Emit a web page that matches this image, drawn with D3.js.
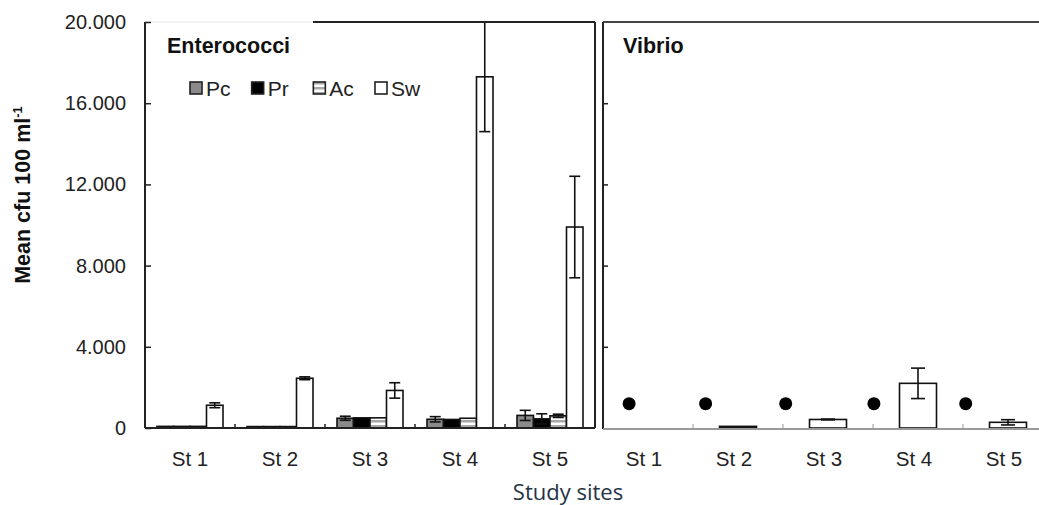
<!DOCTYPE html>
<html>
<head>
<meta charset="utf-8">
<script src="https://cdn.jsdelivr.net/npm/d3@7"></script>
<style>
  body { margin: 0; background: #fff; }
  svg { display: block; font-family: "Liberation Sans", Arial, sans-serif; }
</style>
</head>
<body>
<svg id="chart" width="1039" height="505"></svg>
<script>
// data
const sites = ["St 1", "St 2", "St 3", "St 4", "St 5"];
const series = ["Pc", "Pr", "Ac", "Sw"];
const yTicks = [0, 4000, 8000, 12000, 16000, 20000];
const yTickLabels = ["0", "4.000", "8.000", "12.000", "16.000", "20.000"];

const entPc = [80, 70, 480, 430, 620];
const entPcErr = [0, 0, 100, 130, 250];
const entPr = [80, 70, 500, 420, 450];
const entPrErr = [0, 0, 0, 0, 250];
const entAc = [80, 70, 500, 480, 600];
const entAcErr = [0, 0, 0, 0, 80];
const entSw = [1120, 2450, 1850, 17300, 9900];
const entSwErr = [120, 70, 380, 2700, 2500];

const vibSw = [0, 80, 420, 2200, 280];
const vibSwErr = [0, 0, 20, 750, 130];
const vibDot = [1200, 1200, 1200, 1200, 1200];
const vibDotPos = [0.29, 1.14, 2.03, 3.01, 4.03]; // in site units

const svg = d3.select("#chart");
const H0 = 428, H1 = 22;
const y = d3.scaleLinear().domain([0, 20000]).range([H0, H1]);

const defs = svg.append("defs");
const pat = defs.append("pattern").attr("id", "acStripe")
    .attr("patternUnits", "userSpaceOnUse").attr("width", 6).attr("height", 5);
pat.append("rect").attr("width", 6).attr("height", 5).attr("fill", "#fff");
pat.append("rect").attr("y", 0).attr("width", 6).attr("height", 2.5).attr("fill", "#a8a8a8");

const fills = {Pc: "#8a8a8a", Pr: "#000", Ac: "url(#acStripe)", Sw: "#fff"};

// ---------- left panel: Enterococci
const L = {x0: 145, x1: 595};
const xL = d3.scaleBand().domain(sites).range([L.x0, L.x1]);
const xInner = d3.scaleBand().domain(series).range([0, 66]);

svg.append("clipPath").attr("id", "clipL").append("rect")
    .attr("x", L.x0).attr("y", H1).attr("width", L.x1 - L.x0).attr("height", H0 - H1);

const rows = [];
sites.forEach((s, i) => {
    rows.push({site: s, key: "Pc", v: entPc[i], e: entPcErr[i]});
    rows.push({site: s, key: "Pr", v: entPr[i], e: entPrErr[i]});
    rows.push({site: s, key: "Ac", v: entAc[i], e: entAcErr[i]});
    rows.push({site: s, key: "Sw", v: entSw[i], e: entSwErr[i]});
});

const gL = svg.append("g").attr("clip-path", "url(#clipL)");
const bx = d => xL(d.site) + xL.bandwidth() / 2 - 33 + xInner(d.key);
gL.selectAll("rect.bar").data(rows).enter().append("rect")
    .attr("class", "bar")
    .attr("x", bx)
    .attr("y", d => y(d.v))
    .attr("width", xInner.bandwidth())
    .attr("height", d => H0 - y(d.v))
    .attr("fill", d => fills[d.key])
    .attr("stroke", "#111").attr("stroke-width", 1.6);

function errBars(g, data, xc, cap) {
    const eg = g.selectAll("g.err").data(data.filter(d => d.e > 0)).enter().append("g")
        .attr("stroke", "#111").attr("stroke-width", 1.6);
    eg.append("line").attr("x1", xc).attr("x2", xc)
        .attr("y1", d => y(d.v - d.e)).attr("y2", d => y(d.v + d.e));
    eg.append("line").attr("x1", d => xc(d) - cap / 2).attr("x2", d => xc(d) + cap / 2)
        .attr("y1", d => y(d.v + d.e)).attr("y2", d => y(d.v + d.e));
    eg.append("line").attr("x1", d => xc(d) - cap / 2).attr("x2", d => xc(d) + cap / 2)
        .attr("y1", d => y(Math.max(0, d.v - d.e))).attr("y2", d => y(Math.max(0, d.v - d.e)));
}
errBars(gL, rows, d => bx(d) + xInner.bandwidth() / 2, 11);

// frame of left panel
svg.append("line").attr("x1", L.x0).attr("x2", L.x0).attr("y1", H1).attr("y2", H0)
    .attr("stroke", "#222").attr("stroke-width", 2);
svg.append("line").attr("x1", L.x0).attr("x2", L.x1).attr("y1", H0).attr("y2", H0)
    .attr("stroke", "#222").attr("stroke-width", 2);
svg.append("line").attr("x1", L.x1).attr("x2", L.x1).attr("y1", H1).attr("y2", H0)
    .attr("stroke", "#222").attr("stroke-width", 2);
svg.append("line").attr("x1", 313).attr("x2", L.x1).attr("y1", H1).attr("y2", H1)
    .attr("stroke", "#222").attr("stroke-width", 2);
svg.append("line").attr("x1", L.x0).attr("x2", 313).attr("y1", H1).attr("y2", H1)
    .attr("stroke", "#eee").attr("stroke-width", 1.5);

// y axis (ticks inward)
const yAxisL = d3.axisRight(y).tickValues(yTicks).tickSize(6).tickFormat("");
svg.append("g").attr("transform", `translate(${L.x0},0)`).call(yAxisL)
    .call(g => g.select(".domain").remove())
    .call(g => g.selectAll("line").attr("stroke", "#222").attr("stroke-width", 1.5));
svg.append("g").selectAll("text").data(yTicks).enter().append("text")
    .attr("x", 126).attr("y", d => y(d) + 7)
    .attr("text-anchor", "end").attr("font-size", 20).attr("fill", "#222")
    .text((d, i) => yTickLabels[i]);

// bottom ticks between groups
svg.append("g").selectAll("line").data(sites.slice(1)).enter().append("line")
    .attr("x1", d => xL(d)).attr("x2", d => xL(d))
    .attr("y1", H0).attr("y2", H0 - 4)
    .attr("stroke", "#222").attr("stroke-width", 1.5);

svg.append("g").selectAll("text").data(sites).enter().append("text")
    .attr("x", d => xL(d) + xL.bandwidth() / 2).attr("y", 466)
    .attr("text-anchor", "middle").attr("font-size", 20.5).attr("fill", "#222")
    .text(d => d);

svg.append("text").attr("x", 167).attr("y", 53)
    .attr("font-size", 21.5).attr("font-weight", "bold").attr("fill", "#111")
    .text("Enterococci");

// legend
const legX = d3.scalePoint().domain(series).range([190, 375]);
const leg = svg.append("g").selectAll("g").data(series).enter().append("g")
    .attr("transform", d => `translate(${legX(d)},82)`);
leg.append("rect").attr("width", 12).attr("height", 12)
    .attr("fill", d => fills[d]).attr("stroke", "#222").attr("stroke-width", 1.6);
leg.append("text").attr("x", 16).attr("y", 14)
    .attr("font-size", 21).attr("fill", "#222").text(d => d);

// ---------- right panel: Vibrio
const R = {x0: 603, x1: 1053};
const xR = d3.scaleBand().domain(sites).range([R.x0, R.x1]);
const xRlin = d3.scaleLinear().domain([0, 5]).range([R.x0, R.x1]);
const vrows = sites.map((s, i) => ({site: s, v: vibSw[i], e: vibSwErr[i]}));
const gR = svg.append("g");
const rbw = 37;
gR.selectAll("rect.bar").data(vrows.filter(d => d.v > 0)).enter().append("rect")
    .attr("x", d => xR(d.site) + xR.bandwidth() / 2 - rbw / 2)
    .attr("y", d => y(d.v))
    .attr("width", rbw)
    .attr("height", d => H0 - y(d.v))
    .attr("fill", "#fff").attr("stroke", "#111").attr("stroke-width", 1.6);
errBars(gR, vrows, d => xR(d.site) + xR.bandwidth() / 2, 14);

gR.selectAll("circle").data(vibDot).enter().append("circle")
    .attr("cx", (d, i) => xRlin(vibDotPos[i]))
    .attr("cy", d => y(d))
    .attr("r", 6.5).attr("fill", "#000");

svg.append("line").attr("x1", R.x0).attr("x2", R.x0).attr("y1", H1).attr("y2", H0 + 1)
    .attr("stroke", "#222").attr("stroke-width", 2);
svg.append("line").attr("x1", R.x0).attr("x2", 1039).attr("y1", H1).attr("y2", H1)
    .attr("stroke", "#444").attr("stroke-width", 2);
svg.append("line").attr("x1", R.x0).attr("x2", 1039).attr("y1", H0 + 1).attr("y2", H0 + 1)
    .attr("stroke", "#999").attr("stroke-width", 2);

const yAxisR = d3.axisRight(y).tickValues(yTicks.slice(1, 5)).tickSize(5).tickFormat("");
svg.append("g").attr("transform", `translate(${R.x0},0)`).call(yAxisR)
    .call(g => g.select(".domain").remove())
    .call(g => g.selectAll("line").attr("stroke", "#222").attr("stroke-width", 1.5));

svg.append("g").selectAll("line").data(sites.slice(1)).enter().append("line")
    .attr("x1", d => xR(d)).attr("x2", d => xR(d))
    .attr("y1", H0).attr("y2", H0 - 4)
    .attr("stroke", "#bbb").attr("stroke-width", 1.5);

svg.append("g").selectAll("text").data(sites).enter().append("text")
    .attr("x", d => xR(d) + xR.bandwidth() / 2 - 4).attr("y", 466)
    .attr("text-anchor", "middle").attr("font-size", 20.5).attr("fill", "#222")
    .text(d => d);

svg.append("text").attr("x", 623).attr("y", 53)
    .attr("font-size", 21.5).attr("font-weight", "bold").attr("fill", "#111")
    .text("Vibrio");

// axis titles
svg.append("text")
    .attr("transform", "translate(30,195) rotate(-90)")
    .attr("text-anchor", "middle").attr("font-size", 21.5).attr("font-weight", "bold")
    .attr("fill", "#111")
    .call(t => {
        t.append("tspan").text("Mean cfu 100 ml");
        t.append("tspan").attr("dy", -8).attr("font-size", 13).text("-1");
    });

svg.append("text").attr("x", 568).attr("y", 500)
    .attr("text-anchor", "middle").attr("font-size", 22)
    .attr("font-family", "'Open Sans', sans-serif").attr("fill", "#253444")
    .text("Study sites");
</script>
</body>
</html>
